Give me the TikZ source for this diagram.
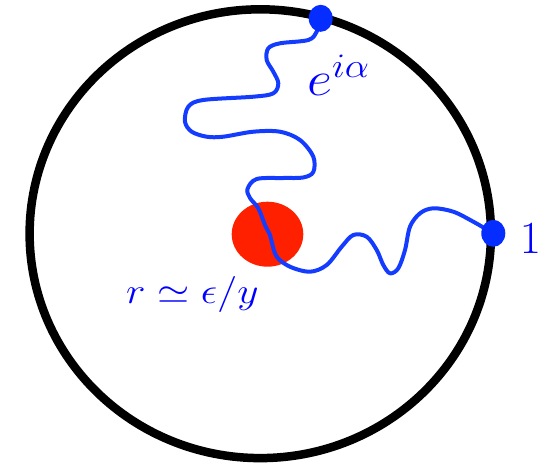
\RequirePackage{fix-cm}
\documentclass[tikz,border=0pt]{standalone}
\usepackage{amsmath,amssymb}
\usepackage{tikz}
\definecolor{wpBlue}  {RGB}{ 20,  60, 255}
\definecolor{wpDot}   {RGB}{  5,  45, 255}
\definecolor{wpText}  {RGB}{  0,   0, 255}
\definecolor{wpRed}   {RGB}{255,  32,   0}
\usetikzlibrary{
  positioning,
  shapes.geometric,
}

\begin{document}
\begin{tikzpicture}[
  x=1pt, y=-1pt,
  rim/.style={line width=8.5pt, black},
  walk/.style={line width=4pt, color=wpBlue, line cap=round, line join=round},
  dot/.style={ellipse, fill=wpDot, inner sep=0pt, minimum width=24pt, minimum height=27pt},
  lbl/.style={text=wpText, inner sep=0pt},
]
  \useasboundingbox (0,0) rectangle (547,464);

  % Boundary circle
  \draw[rim] (260.3,233.7) ellipse [x radius=230.7, y radius=224.4];

  % Small disc of radius r
  \fill[wpRed] (267.5,234.2) ellipse [x radius=35.8, y radius=32.5];

  % End points on the boundary
  \coordinate (topEnd) at (320.7,18.3);
  \coordinate (rightEnd) at (493.3,233.3);

  % Random path
  \draw[walk] plot[smooth, tension=0.55] coordinates {
    (topEnd) (316.7,31.7) (308.3,40) (280,43.3) (268.3,48.3) (266.7,60)
    (273.3,71.7) (278.3,83.3) (273.3,93.3) (253.3,96.7) (203.3,100)
    (188.3,106.7) (185,121.7) (191.7,131.7) (206.7,136.7) (223.3,136.7)
    (253.3,131.7) (280,131.7) (300,140) (313.3,156.7) (313.3,172)
    (303,177.5) (283,178) (256.7,179) (247.5,189) (250,198) (258.3,208.3)
    (265,225) (270,235) (271.7,241.7) (276.7,256.7) (290,266.7)
    (310,271.7) (326.7,265) (341.7,246.7) (353.3,235) (366.7,236.7)
    (376.7,250) (383.3,265) (390,273.3) (398.3,268.3) (405,250)
    (410,226.7) (420,213.3) (433.3,208.3) (453.3,211.7) (473.3,221.7)
    (rightEnd)
  };

  \node[dot] (topDot) at (topEnd) {};
  \node[dot] (rightDot) at (rightEnd) {};

  % Labels
  \node[lbl, anchor=base west, font=\fontsize{49}{54}\selectfont]
    (alphaLbl) at (307,95) {\scalebox{1.12}[1]{$e^{i\alpha}$}};
  \node[lbl, anchor=base, font=\fontsize{46}{50}\selectfont]
    (oneLbl) at (530.5,253) {$1$};
  \node[lbl, anchor=base west, font=\fontsize{36}{40}\selectfont]
    (radiusLbl) at (126,303) {\scalebox{1.15}[1]{$r\simeq\epsilon/y$}};

\end{tikzpicture}
\end{document}
